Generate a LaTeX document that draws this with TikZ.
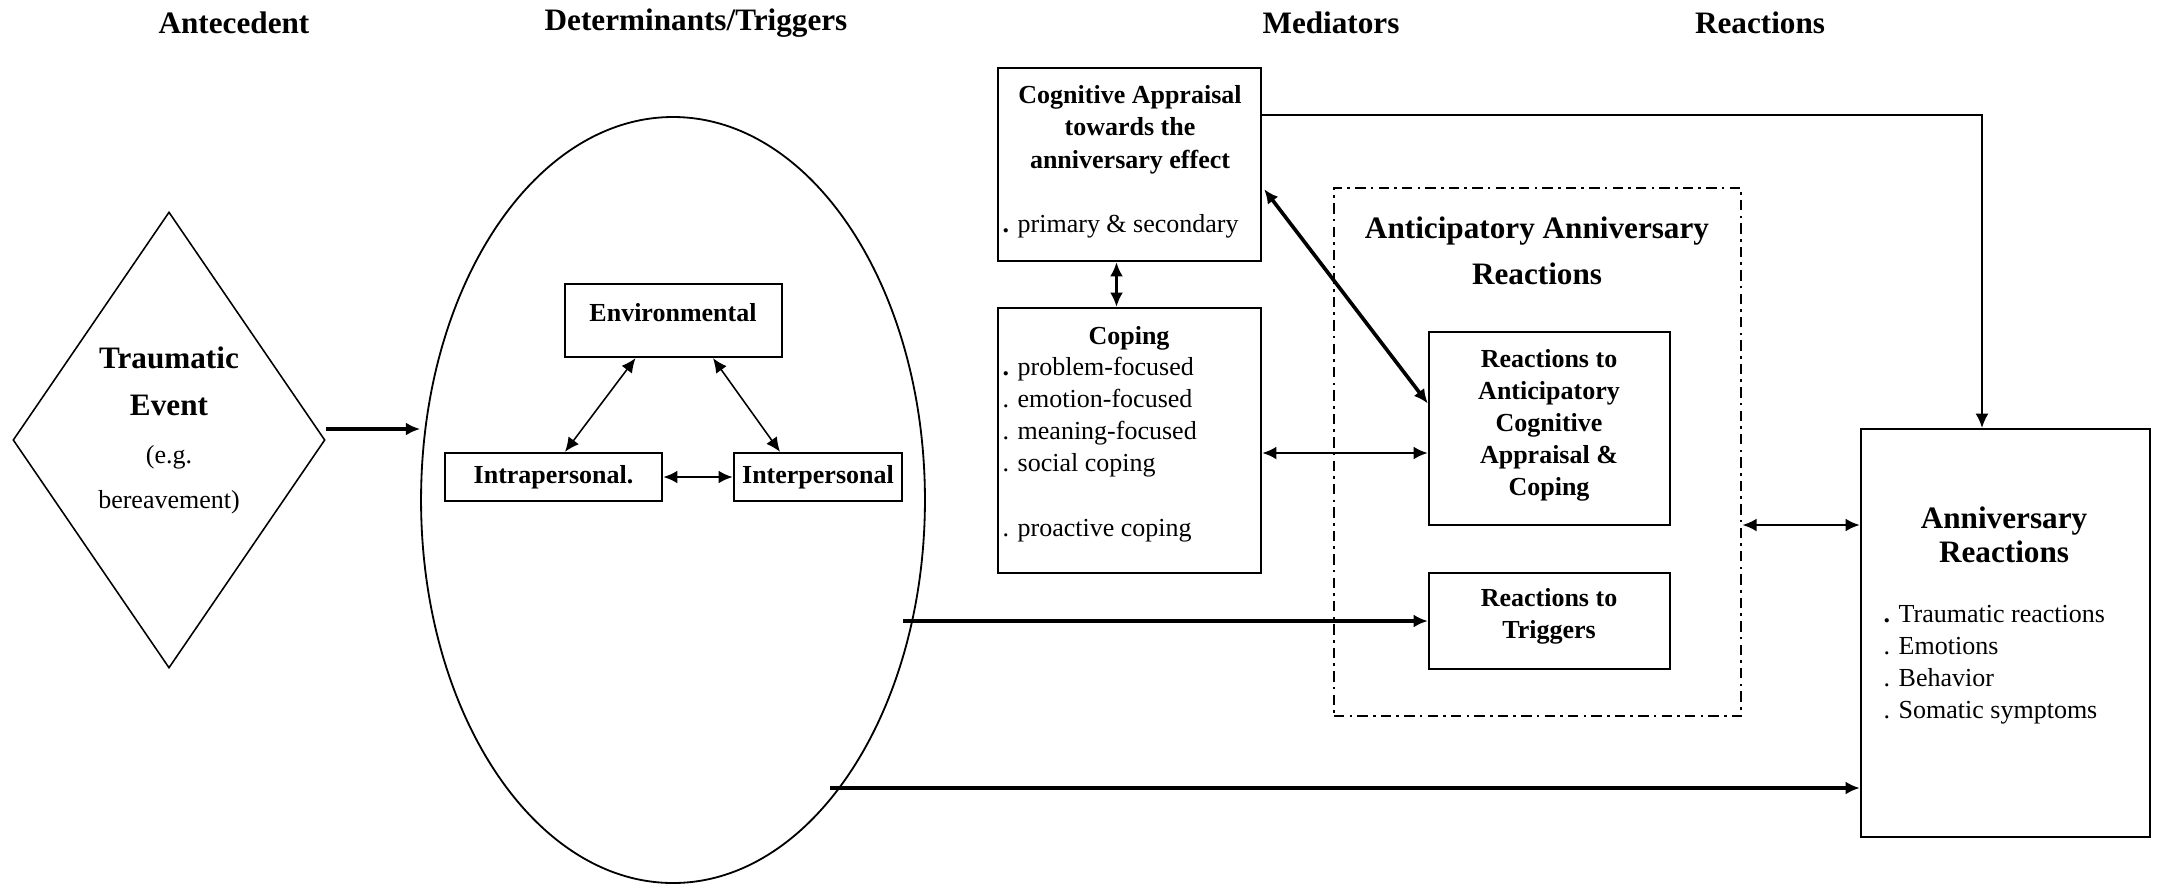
\documentclass[tikz,border=0pt]{standalone}
\usepackage{fontspec}
\setmainfont{Liberation Serif}
\usetikzlibrary{arrows.meta,shapes.geometric,fit,calc}
\begin{document}
\begin{tikzpicture}[x=0.3846pt,y=-0.3846pt,
  box/.style={draw, line width=0.9pt, inner sep=0pt},
  hd/.style={font=\fontsize{12}{14}\selectfont\bfseries, inner sep=0pt},
  bt/.style={font=\fontsize{10}{12.4}\selectfont\bfseries, align=center, inner sep=0pt},
  nt/.style={font=\fontsize{10}{12.4}\selectfont, align=left, inner sep=0pt},
  thinline/.style={line width=0.6pt},
  medline/.style={line width=1pt},
  thickline/.style={line width=1.4pt},
  >={Latex[length=5.5pt,width=5pt]}]
\useasboundingbox (0,0) rectangle (2161,885);

% headings
\node[hd] (h1) at (234,23) {Antecedent};
\node[hd] (h2) at (696,23) {Determinants/Triggers};
\node[hd] (h3) at (1331,23) {Mediators};
\node[hd] (h4) at (1760,23) {Reactions};

% antecedent
\node[draw, diamond, thinline, minimum width=120pt, minimum height=175.4pt, inner sep=0pt] (te) at (169,440) {};
\node[font=\fontsize{12}{18}\selectfont\bfseries, align=center, inner sep=0pt] (tet) at (169,381.5) {Traumatic\\Event};
\node[font=\fontsize{10}{17.3}\selectfont, align=center, inner sep=0pt] (eg) at (169,479.5) {(e.g.\\bereavement)};

% determinants
\node[draw, ellipse, line width=0.7pt, minimum width=193.8pt, minimum height=294.6pt, inner sep=0pt] (ell) at (673,500) {};
\node[box, fit={(565,284) (782,357)}] (env) {};
\node[bt] (envt) at (673,313) {Environmental};
\node[box, fit={(445,453) (662,501)}] (intra) {};
\node[bt] (intrat) at (intra.center) {Intrapersonal.};
\node[box, fit={(734,453) (902,501)}] (inter) {};
\node[bt] (intert) at (inter.center) {Interpersonal};

% mediators
\node[box, fit={(998,68) (1261,261)}] (cog) {};
\node[font=\fontsize{10}{12.5}\selectfont\bfseries, align=center, inner sep=0pt] (cogt) at (1130,129.5) {Cognitive Appraisal\\towards the\\anniversary effect};
\node[nt, anchor=west] (cogl) at (1002,226) {{\bfseries .} primary \& secondary};

\node[box, fit={(998,308) (1261,573)}] (cop) {};
\node[bt] (copt) at (1129,338) {Coping};
\node[nt, anchor=west] (copl) at (1002,449.5) {{\bfseries .} problem-focused\\. emotion-focused\\. meaning-focused\\. social coping\\[12.4pt]. proactive coping};

% anticipatory reactions
\node[draw, line width=1pt, dash pattern=on 4pt off 2pt on 1pt off 2pt, inner sep=0pt, fit={(1334,188) (1741,716)}] (ant) {};
\node[font=\fontsize{12}{17.7}\selectfont\bfseries, align=center, inner sep=0pt] (antt) at (1537,251) {Anticipatory Anniversary\\Reactions};
\node[box, fit={(1429,332) (1670,525)}] (rac) {};
\node[font=\fontsize{10}{12.3}\selectfont\bfseries, align=center, inner sep=0pt] (ract) at (1549,425) {Reactions to\\Anticipatory\\Cognitive\\Appraisal \&\\Coping};
\node[box, fit={(1429,573) (1670,669)}] (rt) {};
\node[font=\fontsize{10}{12.3}\selectfont\bfseries, align=center, inner sep=0pt] (rtt) at (1549,616.5) {Reactions to\\Triggers};

% anniversary reactions
\node[box, fit={(1861,429) (2150,837)}] (ar) {};
\node[font=\fontsize{12}{13}\selectfont\bfseries, align=center, inner sep=0pt] (art) at (2004,535) {Anniversary\\Reactions};
\node[font=\fontsize{10}{12.3}\selectfont, align=left, inner sep=0pt, anchor=west] (arl) at (1883,665) {{\bfseries .} Traumatic reactions\\. Emotions\\. Behavior\\. Somatic symptoms};

% connectors
\coordinate (a1) at (326,429);
\draw[thickline,->] (a1) -- (a1 -| ell.west);
\draw[thinline,<->] ($(env.south)+(-38,0)$) -- ($(intra.north)+(11.5,0)$);
\draw[thinline,<->] ($(env.south)+(39.5,0)$) -- ($(inter.north)+(-38,0)$);
\draw[medline,<->] (intra.east) -- (inter.west);
\draw[medline,<->] ($(cog.south)+(-13,0)$) -- ($(cop.north)+(-13,0)$);
\draw[thinline,->] ($(cog.north east)+(0,48)$) -| ($(ar.north)+(-23.5,0)$);
\draw[thickline,<->] ($(cog.south east)+(2,-73)$) -- ($(rac.west)+(0,-25)$);
\draw[medline,<->] ($(cop.east)+(0,12.5)$) -- ($(rac.west)+(0,24.5)$);
\draw[medline,<->] ($(ant.east)+(0,73)$) -- ($(ar.west)+(0,-108)$);
\draw[thickline,->] (inter.south east |- rt.west) -- (rt.west);
\coordinate (lo) at (830,788);
\draw[thickline,->] (lo) -- (lo -| ar.west);
\end{tikzpicture}
\end{document}
